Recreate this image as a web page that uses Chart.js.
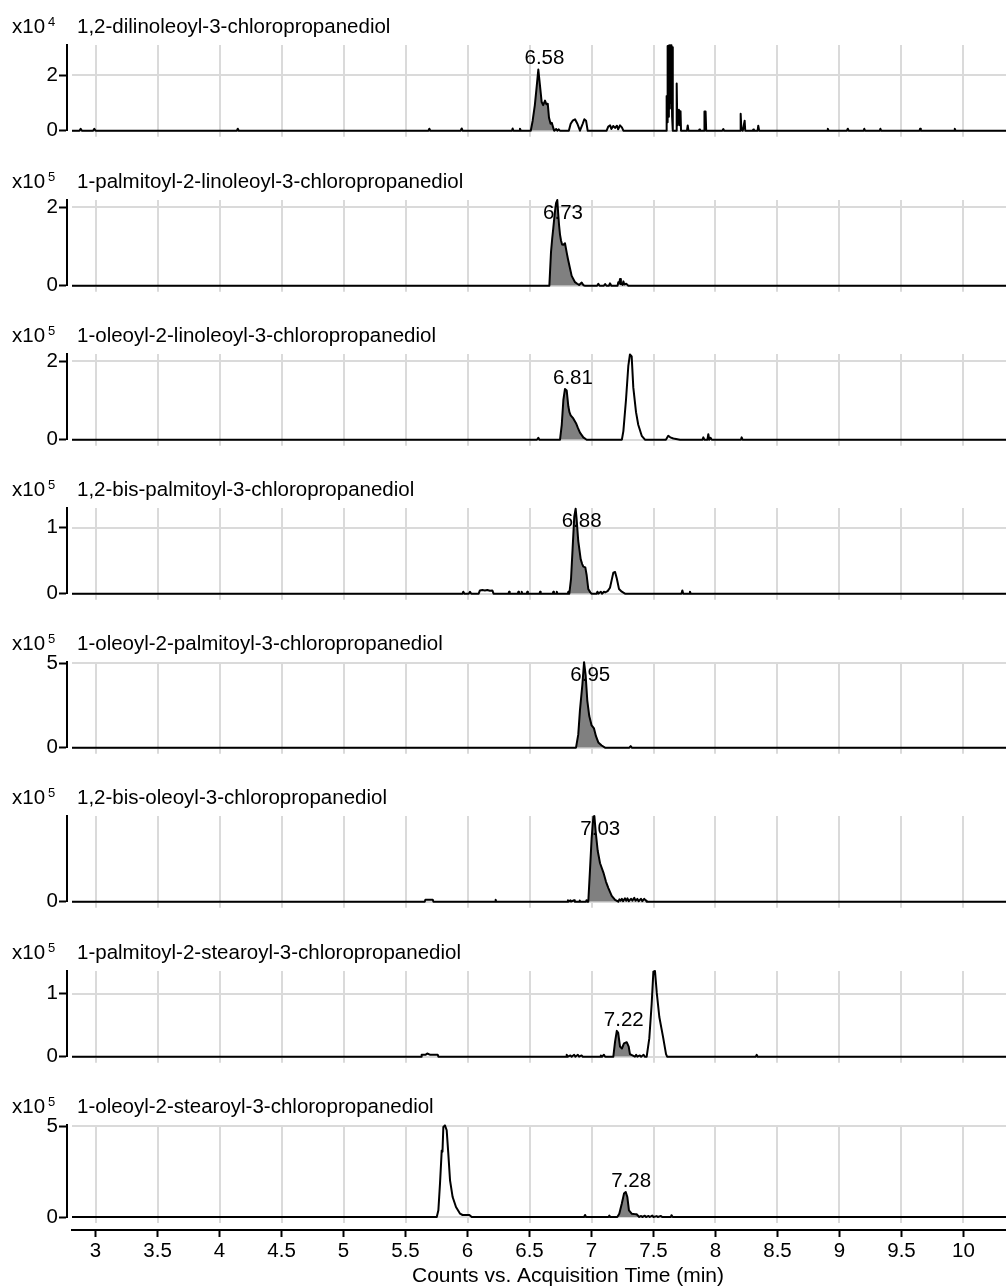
<!DOCTYPE html>
<html><head><meta charset="utf-8">
<script src="https://cdn.jsdelivr.net/npm/chart.js@4.4.1/dist/chart.umd.min.js"></script>
<style>
html,body{margin:0;padding:0;background:#fff;}
#wrap{position:relative;width:1006px;height:1288px;overflow:hidden;background:#fff;}
#wrap canvas{position:absolute;left:0;}
</style></head><body><div id="wrap"></div>
<script>
// ---------- DATA ----------
const xTicks = [3, 3.5, 4, 4.5, 5, 5.5, 6, 6.5, 7, 7.5, 8, 8.5, 9, 9.5, 10];
const xTickLabels = ['3','3.5','4','4.5','5','5.5','6','6.5','7','7.5','8','8.5','9','9.5','10'];
const xTitle = 'Counts vs. Acquisition Time (min)';
const compounds = [
  '1,2-dilinoleoyl-3-chloropropanediol',
  '1-palmitoyl-2-linoleoyl-3-chloropropanediol',
  '1-oleoyl-2-linoleoyl-3-chloropropanediol',
  '1,2-bis-palmitoyl-3-chloropropanediol',
  '1-oleoyl-2-palmitoyl-3-chloropropanediol',
  '1,2-bis-oleoyl-3-chloropropanediol',
  '1-palmitoyl-2-stearoyl-3-chloropropanediol',
  '1-oleoyl-2-stearoyl-3-chloropropanediol'
];
const exponents = ['4','5','5','5','5','5','5','5'];
const peakRT = [6.58, 6.73, 6.81, 6.88, 6.95, 7.03, 7.22, 7.28];
const peakLabels = ['6.58','6.73','6.81','6.88','6.95','7.03','7.22','7.28'];
const yMax = [3.08, 2.18, 2.18, 1.30, 5.07, 9.0, 1.36, 5.07];
const yTicks = [[0,2],[0,2],[0,2],[0,1],[0,5],[0],[0,1],[0,5]];

// panel 1 (x10^4)
const pre1 = [[2.80,0],[2.87,0],[2.88,0.07],[2.89,0],[2.98,0],[2.99,0.07],[3.0,0],[4.14,0],[4.147,0.07],[4.155,0],[5.685,0],[5.692,0.07],[5.70,0],[5.945,0],[5.953,0.08],[5.96,0],[6.358,0],[6.364,0.08],[6.37,0],[6.416,0],[6.423,0.07],[6.43,0]];
const peak1 = [[6.51,0],[6.525,0.35],[6.543,0.92],[6.558,1.59],[6.571,2.2],[6.585,1.59],[6.598,1.03],[6.61,0.92],[6.625,1.08],[6.636,0.95],[6.647,0.97],[6.657,0.47],[6.67,0.25],[6.68,0.28],[6.697,0.02]];
const post1 = [[6.70,0],[6.715,0.06],[6.725,0],[6.735,0.05],[6.745,0],[6.817,0],[6.832,0.25],[6.848,0.36],[6.867,0.41],[6.886,0.25],[6.907,0],[6.929,0.25],[6.942,0.41],[6.956,0.36],[6.969,0],[7.122,0],[7.135,0.15],[7.15,0.19],[7.16,0.06],[7.175,0.17],[7.19,0.1],[7.205,0.18],[7.215,0.05],[7.23,0.19],[7.245,0.12],[7.257,0],[7.604,0],[7.606,1.25],[7.609,0.3],[7.612,2.0],[7.616,3.04],[7.620,0.5],[7.624,3.06],[7.628,0.8],[7.632,3.07],[7.636,1.0],[7.640,3.07],[7.645,3.07],[7.650,0.5],[7.654,3.0],[7.657,0],[7.682,0],[7.685,1.7],[7.689,1.7],[7.692,0.2],[7.695,0.75],[7.700,0.3],[7.705,0.75],[7.712,0.2],[7.718,0.7],[7.722,0],[7.77,0],[7.776,0.19],[7.782,0],[7.865,0],[7.87,0.04],[7.875,0],[7.908,0],[7.911,0.69],[7.92,0.69],[7.925,0],[8.055,0],[8.063,0.06],[8.07,0],[8.198,0],[8.203,0.61],[8.208,0.1],[8.22,0],[8.235,0.36],[8.24,0],[8.30,0],[8.305,0.04],[8.31,0],[8.34,0],[8.345,0.18],[8.352,0],[8.90,0],[8.906,0.07],[8.912,0],[9.06,0],[9.067,0.07],[9.074,0],[9.195,0],[9.2,0.07],[9.206,0],[9.325,0],[9.33,0.07],[9.336,0],[9.645,0],[9.65,0.07],[9.656,0],[9.925,0],[9.93,0.07],[9.936,0],[10.4,0]];

// panel 2 (x10^5)
const pre2 = [[2.80,0],[6.655,0]];
const peak2 = [[6.66,0],[6.673,0.84],[6.683,1.2],[6.692,1.47],[6.704,1.85],[6.714,2.10],[6.724,2.18],[6.731,1.85],[6.738,1.55],[6.746,1.3],[6.754,1.15],[6.763,1.05],[6.773,1.04],[6.786,1.08],[6.80,0.84],[6.81,0.68],[6.821,0.52],[6.84,0.25],[6.867,0.09],[6.885,0.05],[6.90,0.02],[6.921,0.08],[6.935,0.01],[6.948,0]];
const post2 = [[7.045,0],[7.055,0.05],[7.065,0],[7.10,0],[7.11,0.04],[7.12,0],[7.14,0],[7.149,0.06],[7.16,0],[7.21,0],[7.216,0.09],[7.223,0.05],[7.23,0.17],[7.237,0.04],[7.244,0.06],[7.25,0.02],[7.257,0.11],[7.265,0.03],[7.28,0.05],[7.297,0],[10.4,0]];

// panel 3 (x10^5)
const pre3 = [[2.80,0],[6.56,0],[6.571,0.05],[6.58,0],[6.745,0]];
const peak3 = [[6.746,0],[6.76,0.38],[6.773,1.01],[6.786,1.29],[6.80,1.25],[6.813,0.85],[6.822,0.7],[6.832,0.62],[6.853,0.54],[6.875,0.42],[6.89,0.3],[6.907,0.18],[6.934,0.06],[6.961,0]];
const post3 = [[7.245,0],[7.257,0.22],[7.278,1.01],[7.297,1.88],[7.31,2.17],[7.324,2.12],[7.337,1.33],[7.359,0.70],[7.377,0.38],[7.405,0.10],[7.431,0],[7.60,0],[7.619,0.1],[7.635,0.06],[7.66,0.03],[7.714,0],[7.895,0],[7.902,0.06],[7.91,0],[7.935,0],[7.942,0.14],[7.95,0],[7.96,0.05],[7.97,0],[8.205,0],[8.211,0.06],[8.218,0],[10.4,0]];

// panel 4 (x10^5)
const pre4 = [[2.80,0],[5.96,0],[5.966,0.03],[5.975,0],[6.01,0],[6.02,0.03],[6.03,0],[6.09,0],[6.10,0.05],[6.12,0.056],[6.14,0.05],[6.16,0.056],[6.18,0.045],[6.20,0.05],[6.21,0],[6.33,0],[6.335,0.03],[6.34,0],[6.405,0],[6.41,0.03],[6.415,0],[6.432,0],[6.437,0.03],[6.442,0],[6.477,0],[6.482,0.03],[6.487,0],[6.58,0],[6.585,0.03],[6.59,0],[6.687,0],[6.692,0.03],[6.697,0],[6.715,0],[6.72,0.03],[6.725,0],[6.808,0],[6.813,0.03],[6.818,0]];
const peak4 = [[6.821,0],[6.835,0.23],[6.848,0.70],[6.861,1.17],[6.872,1.29],[6.88,1.13],[6.893,0.80],[6.913,0.52],[6.925,0.45],[6.934,0.41],[6.95,0.40],[6.961,0.28],[6.974,0.07],[6.99,0.02],[7.001,0]];
const post4 = [[7.04,0],[7.048,0.03],[7.055,0],[7.075,0.03],[7.085,0],[7.10,0.03],[7.11,0.02],[7.13,0.04],[7.149,0.09],[7.163,0.21],[7.176,0.32],[7.19,0.33],[7.204,0.23],[7.222,0.07],[7.244,0.03],[7.27,0],[7.725,0],[7.733,0.05],[7.74,0],[7.79,0],[7.794,0.03],[7.80,0],[10.4,0]];

// panel 5 (x10^5)
const pre5 = [[2.80,0],[6.875,0]];
const peak5 = [[6.88,0],[6.893,0.77],[6.907,2.24],[6.926,3.71],[6.94,5.06],[6.953,4.26],[6.966,2.79],[6.982,1.87],[7.001,1.32],[7.02,1.14],[7.036,0.68],[7.055,0.31],[7.082,0.13],[7.109,0]];
const post5 = [[7.305,0],[7.316,0.09],[7.325,0],[10.4,0]];

// panel 6 (x10^5)
const pre6 = [[2.80,0],[5.655,0],[5.66,0.2],[5.72,0.2],[5.725,0],[6.222,0],[6.227,0.2],[6.232,0],[6.805,0],[6.81,0.15],[6.815,0],[6.83,0.15],[6.835,0],[6.86,0.15],[6.865,0],[6.90,0],[6.905,0.12],[6.91,0],[6.955,0],[6.96,0.15],[6.965,0]];
const peak6 = [[6.974,0],[6.988,3.39],[7.001,6.65],[7.015,8.93],[7.023,9.0],[7.034,7.3],[7.05,5.35],[7.069,4.04],[7.096,3.06],[7.117,2.09],[7.136,1.43],[7.163,0.62],[7.19,0.2],[7.216,0]];
const post6 = [[7.225,0.25],[7.235,0.1],[7.245,0.3],[7.255,0.05],[7.27,0.35],[7.28,0.1],[7.29,0.35],[7.30,0.05],[7.32,0.3],[7.33,0.1],[7.345,0.4],[7.355,0.1],[7.37,0.3],[7.38,0.05],[7.40,0.3],[7.41,0.05],[7.425,0.3],[7.44,0.1],[7.445,0],[10.4,0]];

// panel 7 (x10^5)
const pre7 = [[2.80,0],[5.625,0],[5.63,0.03],[5.66,0.03],[5.675,0.05],[5.70,0.03],[5.76,0.03],[5.765,0],[6.795,0],[6.80,0.03],[6.81,0],[6.83,0.02],[6.84,0],[6.86,0.03],[6.87,0],[6.89,0.03],[6.90,0],[6.92,0.02],[6.93,0],[7.07,0],[7.075,0.02],[7.085,0],[7.10,0.03],[7.11,0]];
const peak7 = [[7.176,0],[7.19,0.24],[7.204,0.41],[7.215,0.38],[7.23,0.16],[7.245,0.13],[7.262,0.21],[7.284,0.23],[7.30,0.16],[7.31,0.04],[7.33,0.02],[7.35,0]];
const post7 = [[7.36,0.03],[7.37,0],[7.39,0.02],[7.40,0],[7.42,0.03],[7.43,0],[7.445,0],[7.466,0.29],[7.485,0.83],[7.499,1.35],[7.512,1.36],[7.526,1.02],[7.547,0.63],[7.566,0.43],[7.579,0.29],[7.601,0.04],[7.61,0],[8.325,0],[8.332,0.03],[8.34,0],[10.4,0]];

// panel 8 (x10^5)
const pre8 = [[2.80,0],[5.752,0],[5.765,0.37],[5.778,1.84],[5.792,3.67],[5.798,3.6],[5.805,4.96],[5.818,5.05],[5.832,4.78],[5.845,3.49],[5.859,2.02],[5.88,1.10],[5.907,0.55],[5.94,0.18],[5.96,0.11],[5.98,0.11],[6.015,0.11],[6.034,0],[6.94,0],[6.948,0.11],[6.956,0],[7.137,0],[7.144,0.08],[7.15,0]];
const peak8 = [[7.208,0],[7.224,0.18],[7.244,0.73],[7.262,1.29],[7.276,1.38],[7.289,1.10],[7.302,0.37],[7.324,0.18],[7.345,0.16],[7.364,0.15],[7.385,0]];
const post8 = [[7.40,0.06],[7.41,0],[7.43,0.07],[7.44,0],[7.46,0.06],[7.47,0],[7.49,0.08],[7.50,0],[7.525,0.05],[7.535,0],[7.56,0.06],[7.57,0],[7.64,0],[7.645,0.1],[7.655,0],[10.4,0]];

// ---------- BUILD ----------
const peaks = [peak1, peak2, peak3, peak4, peak5, peak6, peak7, peak8];
const traces = [
  [...pre1, ...peak1, ...post1], [...pre2, ...peak2, ...post2],
  [...pre3, ...peak3, ...post3], [...pre4, ...peak4, ...post4],
  [...pre5, ...peak5, ...post5], [...pre6, ...peak6, ...post6],
  [...pre7, ...peak7, ...post7], [...pre8, ...peak8, ...post8]
];

const FONT = '"Liberation Sans", Arial, Helvetica, sans-serif';
const FS = 20.5;
const GRID = '#dadada';
const X_MIN = 2.81, X_MAX = 10.343;
const wrap = document.getElementById('wrap');
const toPts = arr => arr.map(p => ({x: p[0], y: p[1]}));

function panelPlugin(k, isLast) {
  return {
    id: 'panel' + k,
    afterDatasetsDraw(chart) {
      const {ctx, chartArea} = chart;
      const xs = chart.scales.x, ys = chart.scales.y;
      const pk = Math.max(...peaks[k].map(p => p[1]));
      const px = xs.getPixelForValue(peakRT[k]) + 5;
      const py = Math.max(chartArea.top + 19, ys.getPixelForValue(pk) - 5);
      ctx.save();
      ctx.fillStyle = '#000';
      ctx.font = FS + 'px ' + FONT;
      ctx.textAlign = 'center';
      ctx.textBaseline = 'alphabetic';
      ctx.fillText(peakLabels[k], px, py);
      ctx.restore();
    },
    afterDraw(chart) {
      const {ctx, chartArea} = chart;
      ctx.save();
      ctx.fillStyle = '#000';
      ctx.textAlign = 'left';
      ctx.textBaseline = 'alphabetic';
      ctx.font = FS + 'px ' + FONT;
      const base = chartArea.top - 12;
      ctx.fillText('x10', 12, base);
      const w = ctx.measureText('x10').width;
      ctx.font = '13px ' + FONT;
      ctx.fillText(exponents[k], 12 + w + 3, base - 7);
      ctx.font = FS + 'px ' + FONT;
      ctx.fillText(compounds[k], 77, base);
      if (isLast) {
        const xb = chart.scales.xb;
        ctx.font = '21px ' + FONT;
        ctx.textAlign = 'center';
        ctx.textBaseline = 'middle';
        ctx.fillText(xTitle, (xb.left + xb.right) / 2 + 29, xb.bottom - 12);
      }
      ctx.restore();
    }
  };
}

const setTicks = vals => s => { s.ticks = vals.map(v => ({value: v})); };

for (let k = 0; k < 8; k++) {
  const isLast = k === 7;
  const zero = Math.round(137.3 + 154.2 * k);
  const top = zero - 125;
  const h = isLast ? 1288 - top : 132;
  const cv = document.createElement('canvas');
  cv.width = 1006; cv.height = h;
  cv.style.top = top + 'px';
  cv.style.width = '1006px'; cv.style.height = h + 'px';
  wrap.appendChild(cv);

  const scales = {
    x: {
      type: 'linear', min: X_MIN, max: X_MAX, position: 'bottom',
      ticks: {display: false},
      grid: {color: GRID, lineWidth: 2, drawTicks: true, tickLength: 6, tickColor: GRID, tickWidth: 2},
      border: {display: false},
      afterBuildTicks: setTicks(xTicks),
      afterFit: s => { s.height = isLast ? 13 : 7; }
    },
    y: {
      type: 'linear', min: 0, max: yMax[k], position: 'left',
      ticks: {display: false},
      grid: {color: GRID, lineWidth: 2, drawTicks: false},
      border: {display: false},
      afterBuildTicks: setTicks(yTicks[k]),
      afterFit: s => { s.width = 5; }
    },
    yl: {
      type: 'linear', min: 0, max: yMax[k], position: 'left', weight: 10,
      ticks: {display: true, color: '#000', font: {family: FONT, size: FS}, padding: 1,
              callback: v => String(v)},
      grid: {drawOnChartArea: false, drawTicks: true, tickLength: 8, tickColor: '#000', tickWidth: 2},
      border: {display: true, color: '#000', width: 2},
      afterBuildTicks: setTicks(yTicks[k]),
      afterFit: s => { s.width = 67; }
    }
  };
  if (isLast) {
    scales.xb = {
      type: 'linear', min: X_MIN, max: X_MAX, position: 'bottom', weight: 10,
      ticks: {display: true, color: '#000', font: {family: FONT, size: FS}, padding: 2,
              maxRotation: 0, autoSkip: false,
              callback: (v, i) => xTickLabels[i]},
      grid: {drawOnChartArea: false, drawTicks: true, tickLength: 7, tickColor: '#000', tickWidth: 2},
      border: {display: true, color: '#000', width: 2},
      title: {display: false, text: xTitle},
      afterBuildTicks: setTicks(xTicks),
      afterFit: s => { s.height = 58; }
    };
  }

  new Chart(cv, {
    type: 'line',
    data: {
      datasets: [
        {data: toPts(traces[k]), borderColor: '#000', borderWidth: 2, pointRadius: 0,
         tension: 0, fill: false, order: 0, borderJoinStyle: 'round',
         clip: {left: 0, right: 0, top: 4, bottom: 4}},
        {data: toPts(peaks[k]), borderColor: 'rgba(0,0,0,0)', borderWidth: 0,
         backgroundColor: '#808080', pointRadius: 0, tension: 0, fill: 'origin', order: 1,
         clip: {left: 0, right: 0, top: 4, bottom: 4}}
      ]
    },
    options: {
      responsive: false, animation: false, devicePixelRatio: 1,
      layout: {padding: {top: 33, left: 0, right: 0, bottom: 0}},
      plugins: {legend: {display: false}, tooltip: {enabled: false}, title: {display: false}},
      events: [],
      scales
    },
    plugins: [panelPlugin(k, isLast)]
  });
}
</script>
</body></html>
